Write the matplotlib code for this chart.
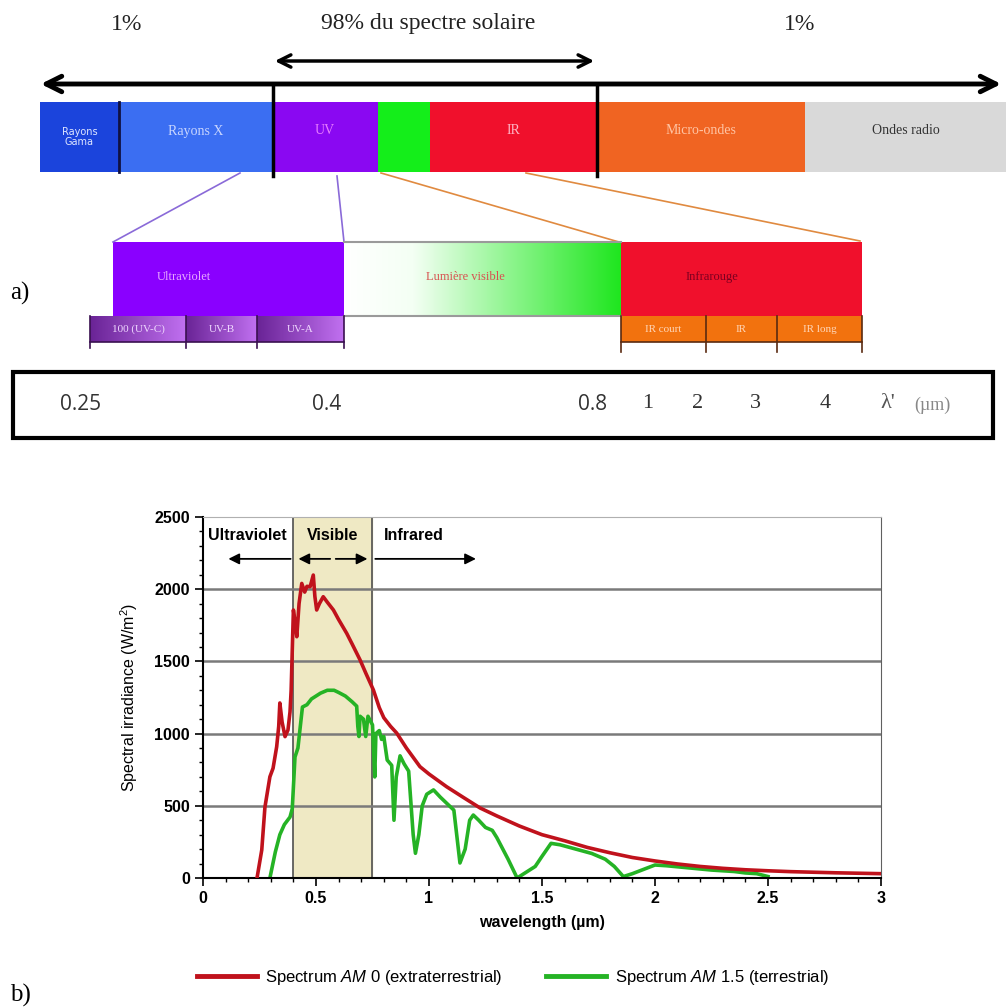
import numpy as np
import matplotlib
matplotlib.use("Agg")
import matplotlib.pyplot as plt
from matplotlib import font_manager
from matplotlib.patches import Rectangle
from matplotlib.lines import Line2D
from matplotlib.colors import LinearSegmentedColormap

# ---------------- data ----------------
# AM0 (extraterrestrial) spectrum
am0_wl = [0.239, 0.26, 0.274, 0.296, 0.31, 0.326, 0.335, 0.34, 0.35, 0.363, 0.376, 0.385, 0.39,
          0.40, 0.405, 0.415, 0.425, 0.437, 0.45, 0.46, 0.474, 0.488, 0.495, 0.503, 0.515, 0.532,
          0.55, 0.577, 0.60, 0.636, 0.66, 0.695, 0.72, 0.754, 0.78, 0.80, 0.83, 0.857, 0.90, 0.96,
          1.00, 1.078, 1.15, 1.226, 1.30, 1.40, 1.50, 1.60, 1.70, 1.80, 1.90, 2.00, 2.10, 2.20,
          2.30, 2.40, 2.50, 2.60, 2.80, 3.00]
am0_irr = [0, 194, 490, 701, 760, 909, 1050, 1212, 1080, 979, 1025, 1150, 1300,
           1856, 1800, 1671, 1900, 2040, 1980, 2020, 2017, 2098, 1950, 1856, 1900, 1948,
           1910, 1856, 1790, 1694, 1620, 1510, 1420, 1302, 1180, 1110, 1050, 1004, 900, 771,
           720, 632, 560, 485, 430, 360, 300, 258, 212, 175, 142, 118, 97, 80,
           67, 57, 50, 44, 36, 30]

# AM1.5 (terrestrial) spectrum
am15_wl = [0.296, 0.32, 0.34, 0.36, 0.385, 0.395, 0.407, 0.42, 0.44, 0.46, 0.48, 0.50, 0.52, 0.55,
           0.58, 0.60, 0.63, 0.66, 0.68, 0.685, 0.69, 0.695, 0.71, 0.72, 0.73, 0.75, 0.76, 0.765,
           0.78, 0.79, 0.80, 0.815, 0.835, 0.845, 0.855, 0.872, 0.89, 0.91, 0.93, 0.94, 0.955, 0.97,
           0.99, 1.02, 1.05, 1.09, 1.11, 1.137, 1.16, 1.18, 1.196, 1.22, 1.25, 1.28, 1.30, 1.35,
           1.39, 1.43, 1.47, 1.50, 1.54, 1.58, 1.65, 1.72, 1.78, 1.82, 1.86, 1.90, 1.95, 2.00,
           2.05, 2.15, 2.25, 2.35, 2.40, 2.45, 2.50]
am15_irr = [0, 180, 300, 370, 422, 480, 838, 900, 1184, 1200, 1240, 1260, 1280, 1300,
            1300, 1285, 1260, 1220, 1190, 1050, 980, 1120, 1100, 980, 1120, 1060, 700, 1000,
            1021, 960, 980, 817, 780, 400, 700, 846, 790, 740, 300, 171, 300, 500,
            580, 610, 560, 500, 470, 104, 200, 400, 436, 400, 350, 330, 280, 130,
            0, 40, 80, 150, 240, 230, 200, 170, 130, 80, 10, 30, 60, 90,
            85, 70, 55, 45, 35, 30, 10]

xticks_b = [0, 0.5, 1, 1.5, 2, 2.5, 3]
yticks_b = [0, 500, 1000, 1500, 2000, 2500]
region_names = ["Ultraviolet", "Visible", "Infrared"]
visible_band = [0.4, 0.75]
legend_labels = ["Spectrum $\\mathit{AM}$ 0 (extraterrestrial)",
                 "Spectrum $\\mathit{AM}$ 1.5 (terrestrial)"]

pct_labels = ["1%", "98% du spectre solaire", "1%"]
top_labels = ["Rayons\nGama", "Rayons X", "UV", "", "IR", "Micro-ondes", "Ondes radio"]
mid_labels = ["Ultraviolet", "Lumière visible", "Infrarouge"]
uv_sub = ["100 (UV-C)", "UV-B", "UV-A"]
ir_sub = ["IR court", "IR", "IR long"]
scale_labels = ["0.25", "0.4", "0.8", "1", "2", "3", "4"]

# ---------------- fonts ----------------
installed = {f.name for f in font_manager.fontManager.ttflist}
narrow = "Liberation Sans Narrow" if "Liberation Sans Narrow" in installed else "Liberation Sans"
plt.rcParams["font.family"] = [narrow, "DejaVu Sans"]
plt.rcParams["mathtext.fontset"] = "custom"
plt.rcParams["mathtext.rm"] = narrow
plt.rcParams["mathtext.it"] = narrow + ":italic"
serif = ["Liberation Serif", "DejaVu Serif"]

fig = plt.figure(figsize=(10.06, 10.08), dpi=100)

# ================= panel a (diagram, drawn in pixel units) =================
ax = fig.add_axes([0, 0, 1, 1])
ax.set_xlim(0, 1006)
ax.set_ylim(1008, 0)
ax.axis("off")

# percentages
for lab, x in zip(pct_labels, [127, 428, 800]):
    ax.text(x, 24, lab, ha="center", va="center", fontsize=17, family=serif, color="#222222")

# arrows
ax.annotate("", xy=(38, 84), xytext=(1004, 84),
            arrowprops=dict(arrowstyle="<->", lw=3.5, color="black", mutation_scale=28))
ax.annotate("", xy=(272, 61), xytext=(597, 61),
            arrowprops=dict(arrowstyle="<->", lw=2.5, color="black", mutation_scale=22))

# top band bar
top_edges = [40, 119, 272, 378, 430, 597, 805, 1006]
top_colors = ["#1b44dc", "#3b6ef2", "#8a08f2", "#14ee1a", "#f0102c", "#f06422", "#d9d9d9"]
top_text_col = ["#dfe6ff", "#c9d6ff", "#e77cff", "#ffffff", "#ffb4c4", "#ffc4a4", "#333333"]
top_text_size = [7, 10, 10, 10, 10, 10, 10]
for i, lab in enumerate(top_labels):
    x0, x1 = top_edges[i], top_edges[i + 1]
    ax.add_patch(Rectangle((x0, 102), x1 - x0, 70, color=top_colors[i], lw=0))
    if lab:
        fam = "DejaVu Sans" if i == 0 else serif
        ax.text((x0 + x1) / 2, 131 if i != 0 else 137, lab,
                ha="center", va="center", fontsize=top_text_size[i], family=fam,
                color=top_text_col[i], linespacing=0.9)
ax.plot([119, 119], [102, 172], color="#101040", lw=2)
ax.plot([273, 273], [84, 176], color="black", lw=2.5)
ax.plot([597, 597], [84, 176], color="black", lw=2.5)

# connecting lines
ax.plot([240, 113], [173, 242], color="#8a6ad8", lw=1.2)
ax.plot([337, 344], [176, 242], color="#8a6ad8", lw=1.2)
ax.plot([381, 619], [173, 242], color="#e08a40", lw=1.2)
ax.plot([526, 860], [173, 241], color="#e08a40", lw=1.2)

# middle row
ax.add_patch(Rectangle((113, 242), 231, 74, color="#8a00ff", lw=0))
vis_cmap = LinearSegmentedColormap.from_list(
    "vis", [(0, "#ffffff"), (0.25, "#f4fff4"), (0.6, "#8ef58e"), (1, "#1ee61e")])
ax.imshow(np.linspace(0, 1, 256).reshape(1, -1), cmap=vis_cmap, aspect="auto",
          extent=(344, 621, 316, 242), zorder=1)
ax.plot([344, 621], [242, 242], color="#9a9a9a", lw=1.5)
ax.plot([344, 621], [316, 316], color="#9a9a9a", lw=1.5)
ax.add_patch(Rectangle((621, 242), 241, 74, color="#f0102c", lw=0))
for lab, x, col in zip(mid_labels, [184, 465, 712], ["#e8a8ff", "#d85050", "#7a0020"]):
    ax.text(x, 277, lab, ha="center", va="center", fontsize=9, family=serif, color=col)

# sub-bands
uv_edges = [90, 186, 257, 344]
uv_cmap = LinearSegmentedColormap.from_list("uv", ["#6a2496", "#c070f0"])
for i, lab in enumerate(uv_sub):
    x0, x1 = uv_edges[i], uv_edges[i + 1]
    ax.imshow(np.linspace(0, 1, 64).reshape(1, -1), cmap=uv_cmap, aspect="auto",
              extent=(x0, x1, 342, 316), zorder=1)
    ax.text((x0 + x1) / 2, 329, lab, ha="center", va="center", fontsize=8, family=serif,
            color="#f0d8ff", zorder=3)
    ax.plot([x0, x0], [316, 348], color="#3a1050", lw=1.2, zorder=3)
ax.plot([344, 344], [316, 348], color="#3a1050", lw=1.2)
ax.plot([90, 344], [342, 342], color="#3a1050", lw=1.2, zorder=3)
ir_edges = [621, 706, 777, 862]
for i, lab in enumerate(ir_sub):
    x0, x1 = ir_edges[i], ir_edges[i + 1]
    ax.add_patch(Rectangle((x0, 316), x1 - x0, 26, color="#f2720e", lw=0))
    ax.text((x0 + x1) / 2, 329, lab, ha="center", va="center", fontsize=8, family=serif,
            color="#ffd6b8")
    ax.plot([x0, x0], [316, 352], color="#5a2a10", lw=1.2)
ax.plot([862, 862], [316, 352], color="#5a2a10", lw=1.2)
ax.plot([621, 862], [342, 342], color="#5a2a10", lw=1.2)

ax.text(10, 293, "a)", ha="left", va="center", fontsize=18, family=serif)

# wavelength scale box
ax.add_patch(Rectangle((13, 372), 980, 66, fill=False, ec="black", lw=3))
scale_x = [81, 327, 593, 648, 698, 755, 825]
for i, (lab, x) in enumerate(zip(scale_labels, scale_x)):
    fam = ["Open Sans", "DejaVu Sans"] if i < 3 else serif
    ax.text(x, 404, lab, ha="center", va="center", fontsize=15 if i < 3 else 16,
            family=fam, color="#333333")
ax.text(888, 404, "λ'", ha="center", va="center", fontsize=16, family=serif, color="#555555")
ax.text(932, 405, "(µm)", ha="center", va="center", fontsize=13, family=serif, color="#888888")

ax.text(10, 995, "b)", ha="left", va="center", fontsize=18, family=serif)

# ================= panel b (spectrum plot) =================
axb = fig.add_axes([203 / 1006, 1 - 878 / 1008, 678 / 1006, 361 / 1008])
axb.axvspan(visible_band[0], visible_band[1], color="#efe9c4", zorder=0)
for v in visible_band:
    axb.axvline(v, color="#505050", lw=1.2, zorder=1)
for y in yticks_b[1:-1]:
    axb.axhline(y, color="#7a7a7a", lw=1.8, zorder=1)

axb.plot(am0_wl, am0_irr, color="#c0121c", lw=2.6, zorder=3)
axb.plot(am15_wl, am15_irr, color="#25b325", lw=2.6, zorder=2)

axb.set_xlim(0, 3)
axb.set_ylim(0, 2500)
axb.set_xticks(xticks_b)
axb.set_xticklabels([f"{t:g}" for t in xticks_b])
axb.set_yticks(yticks_b)
axb.set_xticks(np.arange(0, 3.01, 0.1), minor=True)
axb.set_yticks(np.arange(0, 2501, 100), minor=True)
axb.tick_params(which="major", direction="out", length=6, width=1.2, labelsize=11.5)
axb.tick_params(which="minor", direction="out", length=3, width=1)
for lab in axb.get_xticklabels() + axb.get_yticklabels():
    lab.set_fontweight("bold")
axb.spines["left"].set_linewidth(1.5)
axb.spines["bottom"].set_linewidth(1.5)
axb.spines["right"].set_color("#606060")
axb.spines["top"].set_color("#b0b0b0")

axb.set_xlabel("wavelength (µm)", fontsize=11.5, fontweight="bold", labelpad=6)
axb.set_ylabel("Spectral irradiance (W/m$^2$)", fontsize=11.5, labelpad=10)

# region headers and arrows
for lab, x, ha in zip(region_names, [0.195, 0.575, 0.8], ["center", "center", "left"]):
    axb.text(x, 2375, lab, ha=ha, va="center", fontsize=11.5, fontweight="semibold")
ap = dict(arrowstyle="-|>", lw=1.3, color="black", mutation_scale=16)
axb.annotate("", xy=(0.10, 2210), xytext=(0.40, 2210), arrowprops=ap)
axb.annotate("", xy=(0.41, 2210), xytext=(0.575, 2210), arrowprops=ap)
axb.annotate("", xy=(0.74, 2210), xytext=(0.575, 2210), arrowprops=ap)
axb.annotate("", xy=(1.22, 2210), xytext=(0.75, 2210), arrowprops=ap)

handles = [Line2D([], [], color="#c0121c", lw=3.5), Line2D([], [], color="#25b325", lw=3.5)]
fig.legend(handles, legend_labels, loc="center", bbox_to_anchor=(0.51, 0.03), ncol=2,
           frameon=False, handlelength=3.6, handletextpad=0.5, columnspacing=2.6, fontsize=12)

fig.savefig("out.png", dpi=100)
